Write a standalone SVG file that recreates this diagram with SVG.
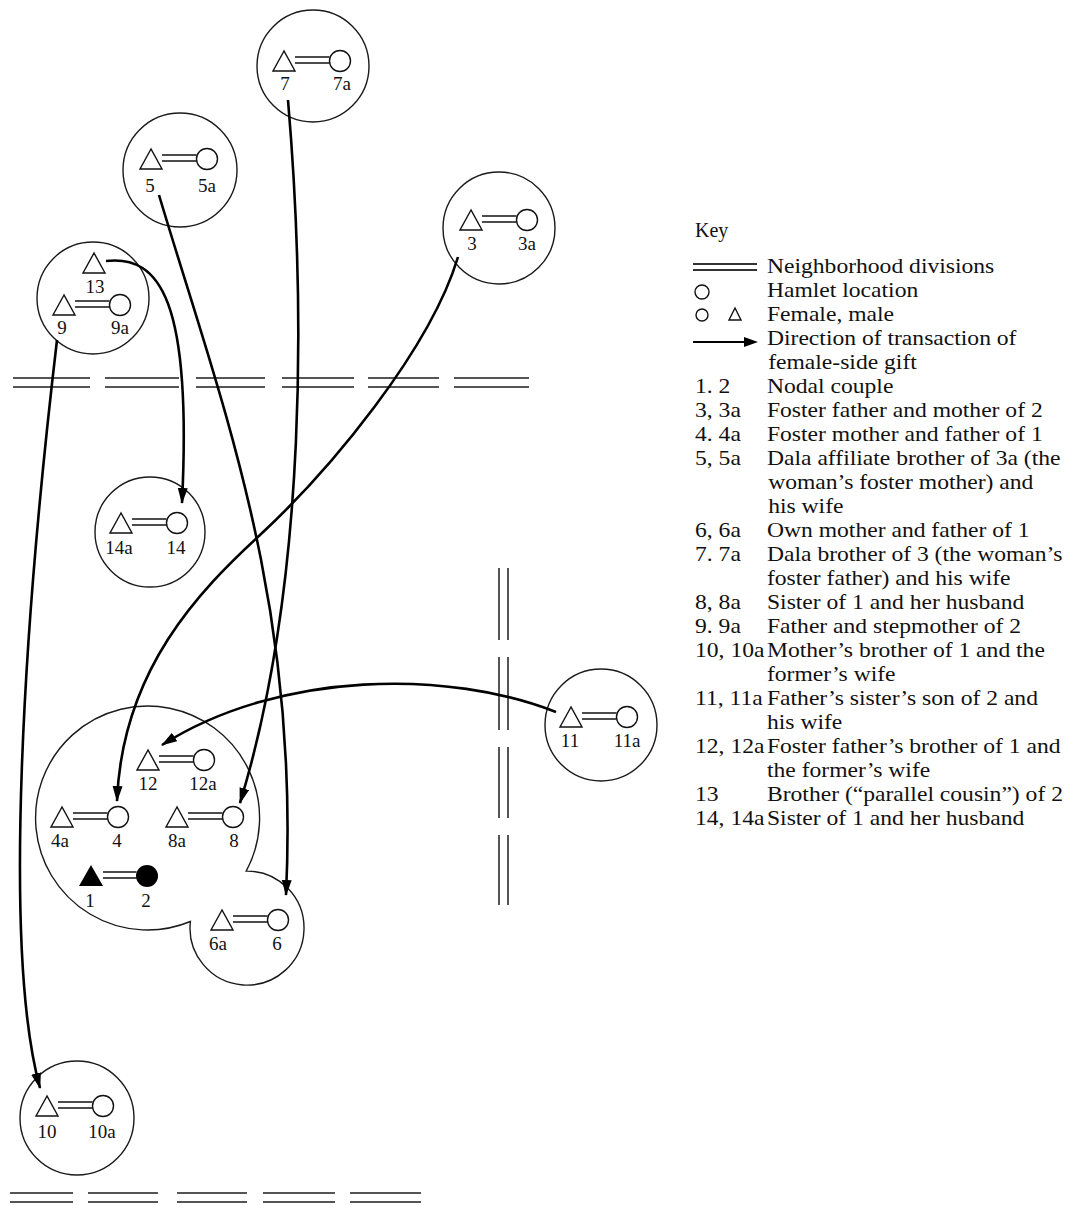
<svg xmlns="http://www.w3.org/2000/svg" xmlns:xlink="http://www.w3.org/1999/xlink" width="1071" height="1205" viewBox="0 0 1071 1205">
<style>
.hamlet{fill:none;stroke:#1a1a1a;stroke-width:1.4}
.sym{fill:none;stroke:#111;stroke-width:1.4}
.lbl{font-family:"Liberation Serif","Times New Roman",serif;font-size:19px;fill:#111;text-anchor:middle}
.arrow{fill:none;stroke:#000;stroke-width:2.6;marker-end:url(#ah)}
.div{stroke:#555;stroke-width:2}
.key{font-family:"Liberation Serif","Times New Roman",serif;font-size:20px;fill:#111}
</style>
<defs>
<marker id="ah" markerUnits="userSpaceOnUse" markerWidth="18" markerHeight="12" refX="15" refY="5" orient="auto">
<path d="M0,0 L16,5 L0,10 Z" fill="#000"/>
</marker>
<g id="pair">
<polygon class="sym" points="0,-20 -11,0 11,0"/>
<line class="sym" x1="11" y1="-14" x2="45.5" y2="-14"/>
<line class="sym" x1="11" y1="-8" x2="45.5" y2="-8"/>
<circle class="sym" cx="56" cy="-10" r="10.5"/>
</g>
<g id="pairFilled">
<polygon points="0,-21 -12,0 12,0" fill="#000"/>
<line class="sym" x1="12" y1="-14" x2="45.5" y2="-14"/>
<line class="sym" x1="12" y1="-8" x2="45.5" y2="-8"/>
<circle cx="56" cy="-10" r="11" fill="#000"/>
</g>
</defs>
<rect width="1071" height="1205" fill="#fff"/>

<g id="divisions">
<g class="div">
<line x1="13" y1="378" x2="90" y2="378"/><line x1="13" y1="387" x2="90" y2="387"/>
<line x1="105" y1="378" x2="179" y2="378"/><line x1="105" y1="387" x2="179" y2="387"/>
<line x1="196" y1="378" x2="265" y2="378"/><line x1="196" y1="387" x2="265" y2="387"/>
<line x1="282" y1="378" x2="354" y2="378"/><line x1="282" y1="387" x2="354" y2="387"/>
<line x1="368" y1="378" x2="439" y2="378"/><line x1="368" y1="387" x2="439" y2="387"/>
<line x1="454" y1="378" x2="529" y2="378"/><line x1="454" y1="387" x2="529" y2="387"/>
<line x1="10" y1="1193" x2="73" y2="1193"/><line x1="10" y1="1202" x2="73" y2="1202"/>
<line x1="88" y1="1193" x2="158" y2="1193"/><line x1="88" y1="1202" x2="158" y2="1202"/>
<line x1="177" y1="1193" x2="247" y2="1193"/><line x1="177" y1="1202" x2="247" y2="1202"/>
<line x1="263" y1="1193" x2="335" y2="1193"/><line x1="263" y1="1202" x2="335" y2="1202"/>
<line x1="350" y1="1193" x2="421" y2="1193"/><line x1="350" y1="1202" x2="421" y2="1202"/>
<line x1="499" y1="568" x2="499" y2="640"/><line x1="508" y1="568" x2="508" y2="640"/>
<line x1="499" y1="657" x2="499" y2="730"/><line x1="508" y1="657" x2="508" y2="730"/>
<line x1="499" y1="747" x2="499" y2="818"/><line x1="508" y1="747" x2="508" y2="818"/>
<line x1="499" y1="835" x2="499" y2="905"/><line x1="508" y1="835" x2="508" y2="905"/>
</g>
</g>

<g id="hamlet-7">
<circle class="hamlet" cx="313" cy="66" r="56"/>
<use xlink:href="#pair" x="284" y="71"/>
<text class="lbl" x="285" y="90">7</text><text class="lbl" x="342" y="90">7a</text>
</g>
<g id="hamlet-5">
<circle class="hamlet" cx="180" cy="170" r="57"/>
<use xlink:href="#pair" x="151" y="169"/>
<text class="lbl" x="150" y="192">5</text><text class="lbl" x="207" y="192">5a</text>
</g>
<g id="hamlet-3">
<circle class="hamlet" cx="499" cy="228" r="56"/>
<use xlink:href="#pair" x="471" y="230"/>
<text class="lbl" x="472" y="250">3</text><text class="lbl" x="527" y="250">3a</text>
</g>
<g id="hamlet-9-13">
<circle class="hamlet" cx="93" cy="298" r="56"/>
<polygon class="sym" points="94,253 83,273 105,273"/>
<text class="lbl" x="95" y="293">13</text>
<use xlink:href="#pair" x="64" y="315"/>
<text class="lbl" x="62" y="334">9</text><text class="lbl" x="120" y="334">9a</text>
</g>
<g id="hamlet-14">
<circle class="hamlet" cx="150" cy="532" r="55"/>
<use xlink:href="#pair" x="121" y="533"/>
<text class="lbl" x="119" y="554">14a</text><text class="lbl" x="176" y="554">14</text>
</g>
<g id="hamlet-11">
<circle class="hamlet" cx="601" cy="725" r="56"/>
<use xlink:href="#pair" x="571" y="727"/>
<text class="lbl" x="570" y="747">11</text><text class="lbl" x="627" y="747">11a</text>
</g>
<g id="hamlet-10">
<circle class="hamlet" cx="77" cy="1118" r="57"/>
<use xlink:href="#pair" x="47" y="1116"/>
<text class="lbl" x="47" y="1138">10</text><text class="lbl" x="102" y="1138">10a</text>
</g>
<g id="hamlet-main">
<path class="hamlet" d="M246.2,871.1 A112,112 0 1 0 190.4,921.5 A57,57 0 1 0 246.2,871.1 Z"/>
<g id="couple-12"><use xlink:href="#pair" x="148" y="770"/>
<text class="lbl" x="148" y="790">12</text><text class="lbl" x="203" y="790">12a</text></g>
<g id="couple-4"><use xlink:href="#pair" x="62" y="827"/>
<text class="lbl" x="60" y="847">4a</text><text class="lbl" x="117" y="847">4</text></g>
<g id="couple-8"><use xlink:href="#pair" x="177" y="827"/>
<text class="lbl" x="177" y="847">8a</text><text class="lbl" x="234" y="847">8</text></g>
<g id="couple-1-2"><use xlink:href="#pairFilled" x="91" y="886"/>
<text class="lbl" x="90" y="907">1</text><text class="lbl" x="146" y="907">2</text></g>
<g id="couple-6"><use xlink:href="#pair" x="222" y="930"/>
<text class="lbl" x="218" y="950">6a</text><text class="lbl" x="277" y="950">6</text></g>
</g>

<g id="connectors">
<path class="arrow" d="M288,100 C305,300 308,580 240,803"/>
<path class="arrow" d="M159,195 C220,400 300,600 286,895"/>
<path class="arrow" d="M458,257 C430,350 330,470 260,535 C200,590 122,670 117,801"/>
<path class="arrow" d="M556,712 C450,670 280,670 162,745"/>
<path class="arrow" d="M106,261 C160,255 192,300 182,503"/>
<path class="arrow" d="M57,340 C24,620 2,950 40,1088"/>
</g>

<g id="key">
<text class="key" x="695" y="237">Key</text>
<line x1="693" y1="264" x2="757" y2="264" stroke="#333" stroke-width="1.8"/>
<line x1="693" y1="270" x2="757" y2="270" stroke="#333" stroke-width="1.8"/>
<circle class="sym" cx="702" cy="292" r="7"/>
<circle class="sym" cx="702" cy="315" r="6"/>
<polygon class="sym" points="735,308 729,320 741,320"/>
<line x1="693" y1="342" x2="746" y2="342" stroke="#000" stroke-width="2.2"/>
<polygon points="744,337 758,342 744,347" fill="#000"/>
<g transform="translate(695 0) scale(1.18 1)" class="key">
<text x="61" y="273">Neighborhood divisions</text>
<text x="61" y="297">Hamlet location</text>
<text x="61" y="321">Female, male</text>
<text x="61" y="345">Direction of transaction of</text>
<text x="62" y="369">female-side gift</text>
<text x="0" y="393">1. 2</text><text x="61" y="393">Nodal couple</text>
<text x="0" y="417">3, 3a</text><text x="61" y="417">Foster father and mother of 2</text>
<text x="0" y="441">4. 4a</text><text x="61" y="441">Foster mother and father of 1</text>
<text x="0" y="465">5, 5a</text><text x="61" y="465">Dala affiliate brother of 3a (the</text>
<text x="62" y="489">woman’s foster mother) and</text>
<text x="62" y="513">his wife</text>
<text x="0" y="537">6, 6a</text><text x="61" y="537">Own mother and father of 1</text>
<text x="0" y="561">7. 7a</text><text x="61" y="561">Dala brother of 3 (the woman’s</text>
<text x="61" y="585">foster father) and his wife</text>
<text x="0" y="609">8, 8a</text><text x="61" y="609">Sister of 1 and her husband</text>
<text x="0" y="633">9. 9a</text><text x="61" y="633">Father and stepmother of 2</text>
<text x="0" y="657">10, 10a</text><text x="61" y="657">Mother’s brother of 1 and the</text>
<text x="61" y="681">former’s wife</text>
<text x="0" y="705">11, 11a</text><text x="61" y="705">Father’s sister’s son of 2 and</text>
<text x="61" y="729">his wife</text>
<text x="0" y="753">12, 12a</text><text x="61" y="753">Foster father’s brother of 1 and</text>
<text x="61" y="777">the former’s wife</text>
<text x="0" y="801">13</text><text x="61" y="801">Brother (“parallel cousin”) of 2</text>
<text x="0" y="825">14, 14a</text><text x="61" y="825">Sister of 1 and her husband</text>
</g>
</g>
</svg>
